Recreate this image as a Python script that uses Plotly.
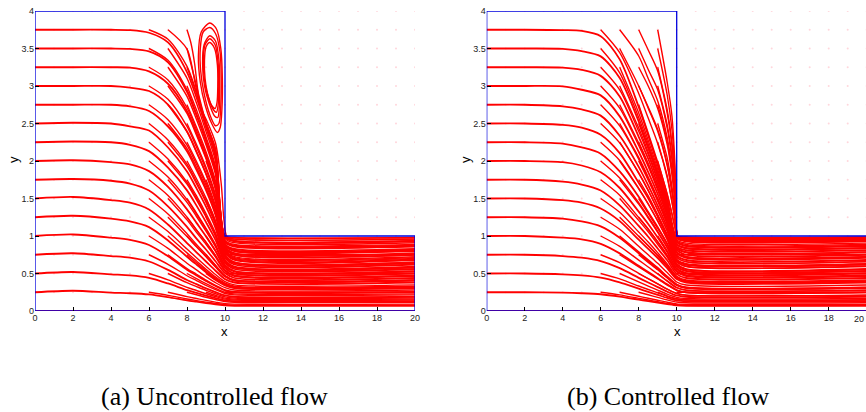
import plotly.graph_objects as go

# ------------------------------------------------------------------
# Data
# ------------------------------------------------------------------
X_TICKS = [0, 2, 4, 6, 8, 10, 12, 14, 16, 18, 20]
Y_TICKS = [0, 0.5, 1, 1.5, 2, 2.5, 3, 3.5, 4]
Y_TICK_TEXT = ["0", "0.5", "1", "1.5", "2", "2.5", "3", "3.5", "4"]

# domain boundary (L-shaped channel)
BND_X = [0, 0, 10, 10, 20, 20, 0]
BND_Y = [0, 4, 4, 1, 1, 0, 0]

# seed grid (visible as faint dots where the velocity is zero)
DOT_X = [0, 1, 2, 3, 4, 5, 6, 7, 8, 9, 10, 11, 12, 13, 14, 15, 16, 17, 18, 19, 20]
DOT_Y = [0, 0.25, 0.5, 0.75, 1, 1.25, 1.5, 1.75, 2, 2.25, 2.5, 2.75, 3, 3.25, 3.5, 3.75, 4]

# streamlines seeded in the outlet channel and on the bottom wall
OUT_X = [10, 20]
OUT_Y = [0.25, 0.5, 0.75]
WALL_X = [0, 20]
WALL_Y = [0, 0]

# ---------------- (a) uncontrolled flow ----------------
A_MAIN_X = [0, 2, 4, 5, 6, 7, 8, 8.5, 9, 9.5, 10, 10.5, 20]
A_MAIN_Y = [
    [0.25, 0.27, 0.245, 0.237, 0.221, 0.185, 0.142, 0.124, 0.106, 0.09, 0.075, 0.07, 0.07],
    [0.5, 0.52, 0.489, 0.474, 0.441, 0.367, 0.278, 0.241, 0.204, 0.171, 0.141, 0.13, 0.13],
    [0.75, 0.77, 0.733, 0.711, 0.66, 0.548, 0.414, 0.358, 0.302, 0.252, 0.207, 0.19, 0.19],
    [1.0, 1.02, 0.978, 0.948, 0.88, 0.73, 0.55, 0.475, 0.4, 0.333, 0.273, 0.25, 0.25],
    [1.25, 1.27, 1.231, 1.194, 1.118, 0.94, 0.724, 0.62, 0.517, 0.423, 0.348, 0.31, 0.31],
    [1.5, 1.52, 1.478, 1.444, 1.354, 1.153, 0.906, 0.783, 0.66, 0.537, 0.425, 0.38, 0.38],
    [1.75, 1.76, 1.737, 1.698, 1.606, 1.396, 1.121, 0.964, 0.82, 0.663, 0.506, 0.44, 0.44],
    [2.0, 2.01, 1.985, 1.955, 1.865, 1.655, 1.355, 1.175, 0.995, 0.8, 0.575, 0.5, 0.5],
    [2.25, 2.26, 2.25, 2.216, 2.132, 1.912, 1.608, 1.405, 1.185, 0.949, 0.645, 0.56, 0.56],
    [2.5, 2.51, 2.5, 2.462, 2.406, 2.18, 1.861, 1.635, 1.391, 1.109, 0.714, 0.62, 0.62],
    [2.75, 2.75, 2.75, 2.729, 2.667, 2.46, 2.129, 1.881, 1.611, 1.28, 0.783, 0.68, 0.68],
    [3.0, 3.0, 3.0, 2.978, 2.933, 2.753, 2.393, 2.123, 1.83, 1.47, 0.84, 0.75, 0.75],
    [3.25, 3.25, 3.25, 3.245, 3.195, 3.03, 2.664, 2.372, 2.054, 1.664, 0.883, 0.81, 0.81],
    [3.5, 3.5, 3.5, 3.495, 3.462, 3.316, 2.921, 2.606, 2.264, 1.869, 0.923, 0.87, 0.87],
    [3.75, 3.75, 3.75, 3.745, 3.71, 3.581, 3.186, 2.848, 2.453, 2.058, 0.986, 0.93, 0.93],
]
A_S6_X = [6, 7, 8, 8.5, 9, 9.5, 10, 10.5, 20]
A_S6_Y = [
    [0.25, 0.209, 0.16, 0.139, 0.119, 0.101, 0.084, 0.078, 0.078],
    [0.5, 0.416, 0.315, 0.273, 0.23, 0.193, 0.159, 0.146, 0.146],
    [0.75, 0.623, 0.47, 0.406, 0.342, 0.285, 0.234, 0.215, 0.215],
    [1.0, 0.835, 0.637, 0.548, 0.459, 0.378, 0.311, 0.28, 0.28],
    [1.25, 1.059, 0.826, 0.711, 0.597, 0.487, 0.391, 0.349, 0.349],
    [1.5, 1.294, 1.031, 0.888, 0.753, 0.61, 0.472, 0.415, 0.415],
    [1.75, 1.541, 1.252, 1.082, 0.918, 0.74, 0.545, 0.474, 0.474],
    [2.0, 1.786, 1.484, 1.292, 1.092, 0.876, 0.611, 0.531, 0.531],
    [2.25, 2.027, 1.717, 1.504, 1.274, 1.018, 0.675, 0.586, 0.586],
    [2.5, 2.281, 1.957, 1.724, 1.47, 1.171, 0.739, 0.642, 0.642],
    [2.75, 2.551, 2.211, 1.956, 1.679, 1.339, 0.801, 0.702, 0.702],
    [3.0, 2.822, 2.461, 2.185, 1.886, 1.519, 0.851, 0.765, 0.765],
    [3.25, 3.081, 2.71, 2.414, 2.092, 1.701, 0.89, 0.821, 0.821],
    [3.5, 3.343, 2.948, 2.63, 2.283, 1.888, 0.929, 0.876, 0.876],
    [3.75, 3.623, 3.262, 2.913, 2.468, 2.082, 0.987, 0.937, 0.937],
]
A_S7_X = [7, 8, 8.5, 9, 9.5, 10, 10.5, 20]
A_S7_Y = [
    [0.25, 0.191, 0.166, 0.141, 0.119, 0.099, 0.092, 0.092],
    [0.5, 0.377, 0.326, 0.276, 0.23, 0.189, 0.174, 0.174],
    [0.75, 0.567, 0.49, 0.412, 0.342, 0.281, 0.256, 0.256],
    [1.0, 0.775, 0.666, 0.557, 0.455, 0.37, 0.33, 0.33],
    [1.25, 0.992, 0.855, 0.724, 0.587, 0.457, 0.404, 0.404],
    [1.5, 1.215, 1.048, 0.89, 0.718, 0.534, 0.464, 0.464],
    [1.75, 1.449, 1.26, 1.065, 0.855, 0.601, 0.522, 0.522],
    [2.0, 1.691, 1.481, 1.253, 1.002, 0.668, 0.58, 0.58],
    [2.25, 1.928, 1.697, 1.446, 1.152, 0.731, 0.635, 0.635],
    [2.5, 2.166, 1.915, 1.642, 1.307, 0.791, 0.69, 0.69],
    [2.75, 2.39, 2.12, 1.828, 1.468, 0.839, 0.749, 0.749],
    [3.0, 2.634, 2.345, 2.029, 1.643, 0.878, 0.803, 0.803],
    [3.25, 2.862, 2.552, 2.216, 1.822, 0.914, 0.856, 0.856],
    [3.5, 3.104, 2.773, 2.394, 1.999, 0.966, 0.911, 0.911],
    [3.75, 3.492, 2.95, 2.512, 2.155, 0.992, 0.958, 0.958],
]
A_S8_X = [8, 8.5, 9, 9.5, 10, 10.5, 20]
A_S8_Y = [
    [0.25, 0.216, 0.183, 0.154, 0.127, 0.117, 0.117],
    [0.5, 0.432, 0.364, 0.303, 0.249, 0.228, 0.228],
    [0.75, 0.643, 0.537, 0.439, 0.359, 0.32, 0.32],
    [1.0, 0.863, 0.73, 0.592, 0.461, 0.406, 0.406],
    [1.25, 1.08, 0.916, 0.738, 0.544, 0.473, 0.473],
    [1.5, 1.306, 1.103, 0.885, 0.615, 0.534, 0.534],
    [1.75, 1.534, 1.3, 1.039, 0.684, 0.594, 0.594],
    [2.0, 1.763, 1.505, 1.198, 0.75, 0.651, 0.651],
    [2.25, 1.992, 1.712, 1.367, 0.809, 0.712, 0.712],
    [2.5, 2.22, 1.917, 1.546, 0.857, 0.773, 0.773],
    [2.75, 2.449, 2.123, 1.732, 0.896, 0.83, 0.83],
    [3.0, 2.679, 2.321, 1.926, 0.942, 0.888, 0.888],
    [3.25, 2.9, 2.465, 2.077, 0.987, 0.936, 0.936],
    [3.5, 3.0, 2.513, 2.157, 0.992, 0.959, 0.959],
]
A_S9_X = [9, 9.5, 10, 10.5, 20]
A_S9_Y = [
    [0.25, 0.209, 0.172, 0.158, 0.158],
    [0.5, 0.41, 0.337, 0.301, 0.301],
    [0.75, 0.608, 0.47, 0.414, 0.414],
    [1.0, 0.804, 0.577, 0.502, 0.502],
    [1.25, 1.0, 0.667, 0.579, 0.579],
    [1.5, 1.195, 0.749, 0.65, 0.65],
    [1.75, 1.4, 0.819, 0.724, 0.724],
    [2.0, 1.617, 0.873, 0.796, 0.796],
    [2.25, 1.855, 0.92, 0.866, 0.866],
    [2.5, 2.12, 0.99, 0.975, 0.975],
]
# streamline seeded at (8, 3.75), hugging the recirculation bubble
A_EXTRA_X = [[8, 8.2, 8.4, 8.55, 8.7, 9.0, 9.5, 9.8, 9.95, 10.1, 10.5, 20]]
A_EXTRA_Y = [[3.75, 3.58, 3.3, 2.98, 2.72, 2.56, 2.24, 1.7, 1.2, 0.995, 0.98, 0.98]]
# closed streamlines of the corner vortex
A_VORTEX_X = [
    [9.2, 9.55, 9.78, 9.86, 9.84, 9.75, 9.6, 9.3, 8.95, 8.7, 8.6, 8.75, 9.2],
    [9.2, 9.5, 9.74, 9.8, 9.78, 9.68, 9.5, 9.2, 8.9, 8.72, 8.7, 8.85, 9.2],
    [9.2, 9.5, 9.68, 9.72, 9.7, 9.62, 9.45, 9.15, 8.92, 8.82, 8.9, 9.2],
    [9.2, 9.48, 9.64, 9.67, 9.64, 9.55, 9.4, 9.12, 8.92, 8.86, 8.95, 9.2],
    [9.2, 9.45, 9.6, 9.62, 9.58, 9.48, 9.3, 9.08, 8.95, 8.92, 9.0, 9.2],
]
A_VORTEX_Y = [
    [3.84, 3.76, 3.5, 3.1, 2.7, 2.45, 2.38, 2.5, 2.75, 3.05, 3.4, 3.72, 3.84],
    [3.78, 3.7, 3.45, 3.1, 2.75, 2.5, 2.47, 2.62, 2.9, 3.2, 3.5, 3.72, 3.78],
    [3.67, 3.6, 3.35, 3.0, 2.72, 2.58, 2.6, 2.78, 3.0, 3.3, 3.55, 3.67],
    [3.63, 3.55, 3.3, 3.0, 2.75, 2.65, 2.68, 2.85, 3.08, 3.35, 3.55, 3.63],
    [3.58, 3.5, 3.28, 3.0, 2.78, 2.7, 2.74, 2.9, 3.1, 3.35, 3.52, 3.58],
]

# ---------------- (b) controlled flow ----------------
B_MAIN_X = [0, 2, 4, 5, 6, 7, 8, 8.5, 9, 9.5, 10, 10.5, 20]
B_MAIN_Y = [
    [0.25, 0.25, 0.245, 0.237, 0.223, 0.192, 0.151, 0.131, 0.111, 0.092, 0.075, 0.07, 0.07],
    [0.5, 0.5, 0.489, 0.474, 0.445, 0.382, 0.297, 0.256, 0.215, 0.174, 0.141, 0.13, 0.13],
    [0.75, 0.75, 0.733, 0.711, 0.666, 0.571, 0.442, 0.38, 0.319, 0.257, 0.207, 0.19, 0.19],
    [1.0, 1.0, 0.978, 0.955, 0.895, 0.768, 0.603, 0.52, 0.438, 0.355, 0.28, 0.25, 0.25],
    [1.25, 1.25, 1.231, 1.194, 1.128, 0.977, 0.771, 0.667, 0.564, 0.451, 0.348, 0.31, 0.31],
    [1.5, 1.5, 1.478, 1.444, 1.366, 1.198, 0.951, 0.828, 0.705, 0.57, 0.425, 0.38, 0.38],
    [1.75, 1.75, 1.724, 1.685, 1.606, 1.409, 1.134, 0.99, 0.833, 0.676, 0.492, 0.44, 0.44],
    [2.0, 2.0, 1.985, 1.94, 1.85, 1.64, 1.325, 1.16, 0.98, 0.785, 0.56, 0.5, 0.5],
    [2.25, 2.25, 2.233, 2.182, 2.098, 1.861, 1.523, 1.32, 1.118, 0.898, 0.628, 0.56, 0.56],
    [2.5, 2.5, 2.481, 2.444, 2.35, 2.105, 1.71, 1.504, 1.259, 0.996, 0.676, 0.62, 0.62],
    [2.75, 2.75, 2.729, 2.688, 2.605, 2.336, 1.922, 1.674, 1.405, 1.115, 0.742, 0.68, 0.68],
    [3.0, 3.0, 2.995, 2.95, 2.875, 2.595, 2.123, 1.853, 1.56, 1.223, 0.818, 0.75, 0.75],
    [3.25, 3.25, 3.245, 3.215, 3.135, 2.86, 2.323, 2.03, 1.688, 1.322, 0.859, 0.81, 0.81],
    [3.5, 3.5, 3.495, 3.465, 3.395, 3.106, 2.527, 2.185, 1.817, 1.422, 0.923, 0.87, 0.87],
    [3.75, 3.75, 3.745, 3.735, 3.665, 3.355, 2.721, 2.34, 1.945, 1.494, 0.972, 0.93, 0.93],
]
B_S6_X = [6, 7, 8, 8.5, 9, 9.5, 10, 10.5, 20]
B_S6_Y = [
    [0.25, 0.215, 0.169, 0.146, 0.123, 0.102, 0.083, 0.077, 0.077],
    [0.5, 0.429, 0.333, 0.287, 0.241, 0.195, 0.158, 0.145, 0.145],
    [0.75, 0.644, 0.502, 0.432, 0.363, 0.293, 0.234, 0.212, 0.212],
    [1.0, 0.862, 0.679, 0.586, 0.495, 0.398, 0.311, 0.277, 0.277],
    [1.25, 1.09, 0.863, 0.749, 0.636, 0.512, 0.387, 0.346, 0.346],
    [1.5, 1.316, 1.053, 0.919, 0.777, 0.629, 0.463, 0.414, 0.414],
    [1.75, 1.545, 1.247, 1.09, 0.92, 0.74, 0.532, 0.475, 0.475],
    [2.0, 1.773, 1.444, 1.256, 1.063, 0.853, 0.601, 0.536, 0.536],
    [2.25, 2.007, 1.635, 1.43, 1.203, 0.957, 0.657, 0.596, 0.596],
    [2.5, 2.241, 1.835, 1.604, 1.345, 1.066, 0.715, 0.655, 0.655],
    [2.75, 2.468, 2.025, 1.765, 1.484, 1.17, 0.781, 0.716, 0.716],
    [3.0, 2.706, 2.207, 1.927, 1.614, 1.265, 0.835, 0.775, 0.775],
    [3.25, 2.949, 2.396, 2.086, 1.734, 1.358, 0.882, 0.832, 0.832],
    [3.5, 3.176, 2.581, 2.228, 1.853, 1.442, 0.937, 0.887, 0.887],
]
B_S7_X = [7, 8, 8.5, 9, 9.5, 10, 10.5, 20]
B_S7_Y = [
    [0.25, 0.196, 0.17, 0.143, 0.117, 0.095, 0.089, 0.089],
    [0.5, 0.387, 0.333, 0.279, 0.225, 0.182, 0.167, 0.167],
    [0.75, 0.589, 0.507, 0.427, 0.346, 0.273, 0.245, 0.245],
    [1.0, 0.789, 0.683, 0.578, 0.463, 0.356, 0.317, 0.317],
    [1.25, 0.997, 0.869, 0.737, 0.597, 0.442, 0.395, 0.395],
    [1.5, 1.208, 1.056, 0.89, 0.719, 0.519, 0.463, 0.463],
    [1.75, 1.424, 1.24, 1.049, 0.842, 0.594, 0.53, 0.53],
    [2.0, 1.63, 1.425, 1.198, 0.954, 0.655, 0.594, 0.594],
    [2.25, 1.844, 1.611, 1.351, 1.071, 0.718, 0.658, 0.658],
    [2.5, 2.049, 1.787, 1.503, 1.183, 0.79, 0.724, 0.724],
    [2.75, 2.239, 1.956, 1.634, 1.28, 0.842, 0.785, 0.785],
    [3.0, 2.439, 2.118, 1.762, 1.379, 0.895, 0.844, 0.844],
    [3.25, 2.64, 2.275, 1.891, 1.464, 0.951, 0.905, 0.905],
]
B_S8_X = [8, 8.5, 9, 9.5, 10, 10.5, 20]
B_S8_Y = [
    [0.25, 0.216, 0.182, 0.148, 0.12, 0.111, 0.111],
    [0.5, 0.43, 0.362, 0.292, 0.233, 0.212, 0.212],
    [0.75, 0.649, 0.549, 0.439, 0.34, 0.303, 0.303],
    [1.0, 0.872, 0.74, 0.599, 0.443, 0.396, 0.396],
    [1.25, 1.094, 0.923, 0.742, 0.533, 0.477, 0.477],
    [1.5, 1.301, 1.101, 0.884, 0.62, 0.553, 0.553],
    [1.75, 1.536, 1.287, 1.019, 0.689, 0.631, 0.631],
    [2.0, 1.744, 1.465, 1.157, 0.772, 0.707, 0.707],
    [2.25, 1.966, 1.642, 1.286, 0.844, 0.788, 0.788],
    [2.5, 2.165, 1.8, 1.409, 0.915, 0.862, 0.862],
]
B_S9_X = [9, 9.5, 10, 10.5, 20]
B_S9_Y = [
    [0.25, 0.202, 0.163, 0.15, 0.15],
    [0.5, 0.402, 0.313, 0.279, 0.279],
    [0.75, 0.607, 0.448, 0.401, 0.401],
    [1.0, 0.801, 0.57, 0.508, 0.508],
    [1.25, 0.99, 0.673, 0.616, 0.616],
    [1.5, 1.181, 0.788, 0.723, 0.723],
    [1.75, 1.37, 0.89, 0.839, 0.839],
]
# upper seeds that run down along the step wall into the corner
B_TOP_X = [
    [8, 8.5, 9, 9.5, 9.75, 9.9, 9.97, 10.05, 10.5, 20],
    [9, 9.5, 9.75, 9.9, 9.97, 10.05, 10.5, 20],
    [6, 7, 8, 8.5, 9, 9.5, 9.75, 9.9, 9.97, 10.05, 10.5, 20],
    [9, 9.5, 9.75, 9.9, 9.97, 10.05, 10.5, 20],
    [7, 8, 8.5, 9, 9.5, 9.75, 9.9, 9.97, 10.05, 10.5, 20],
    [8, 8.5, 9, 9.5, 9.75, 9.9, 9.97, 10.05, 10.5, 20],
    [9, 9.5, 9.75, 9.9, 9.97, 10.05, 10.5, 20],
    [8, 8.5, 9, 9.5, 9.75, 9.9, 9.97, 10.05, 10.5, 20],
    [9, 9.5, 9.75, 9.9, 9.97, 10.05, 10.5, 20],
    [7, 8, 8.5, 9, 9.5, 9.75, 9.9, 9.97, 10.05, 10.5, 20],
    [8, 8.5, 9, 9.5, 9.75, 9.9, 9.97, 10.05, 10.5, 20],
    [9, 9.5, 9.75, 9.9, 9.97, 10.05, 10.5, 20],
    [8, 8.5, 9, 9.5, 9.75, 9.9, 9.97, 10.05, 10.5, 20],
    [9, 9.5, 9.75, 9.9, 9.97, 10.05, 10.5, 20],
    [9, 9.5, 9.75, 9.9, 9.97, 10.05, 10.5, 20],
    [9, 9.5, 9.75, 9.9, 9.97, 10.05, 10.5, 20],
]
B_TOP_Y = [
    [2.75, 2.373, 1.986, 1.55, 1.29, 1.12, 1.04, 0.975, 0.933, 0.933],
    [2.0, 1.56, 1.3, 1.12, 1.04, 0.975, 0.933, 0.933],
    [3.75, 3.445, 2.9, 2.572, 2.233, 1.78, 1.45, 1.22, 1.08, 0.98, 0.94, 0.94],
    [2.25, 1.8, 1.46, 1.23, 1.09, 0.982, 0.943, 0.943],
    [3.5, 3.0, 2.705, 2.397, 1.94, 1.58, 1.31, 1.13, 0.985, 0.948, 0.948],
    [3.0, 2.72, 2.42, 1.96, 1.6, 1.32, 1.14, 0.986, 0.95, 0.95],
    [2.5, 2.04, 1.66, 1.36, 1.16, 0.988, 0.953, 0.953],
    [3.25, 3.0, 2.7, 2.22, 1.82, 1.47, 1.22, 0.99, 0.957, 0.957],
    [2.75, 2.27, 1.86, 1.5, 1.24, 0.99, 0.96, 0.96],
    [3.75, 3.4, 3.1, 2.8, 2.31, 1.9, 1.53, 1.26, 0.992, 0.962, 0.962],
    [3.5, 3.22, 2.95, 2.44, 2.02, 1.6, 1.3, 0.994, 0.966, 0.966],
    [3.0, 2.48, 2.06, 1.63, 1.32, 0.995, 0.968, 0.968],
    [3.75, 3.48, 3.2, 2.64, 2.2, 1.72, 1.36, 0.997, 0.973, 0.973],
    [3.25, 2.68, 2.24, 1.75, 1.38, 0.997, 0.976, 0.976],
    [3.5, 2.88, 2.42, 1.88, 1.44, 0.998, 0.981, 0.981],
    [3.75, 3.05, 2.6, 2.0, 1.5, 1.0, 0.986, 0.986],
]

# ------------------------------------------------------------------
RED = "#ff0000"
BLUE = "#0000dd"
fig = go.Figure()


def add_line(x, y, ax, width=1.2, color=RED, shape="spline"):
    fig.add_trace(go.Scatter(
        x=x, y=y, mode="lines", xaxis=ax[0], yaxis=ax[1],
        line=dict(color=color, width=width, shape=shape, smoothing=0.8),
        hoverinfo="skip", showlegend=False))


def add_panel(ax, main_x, main_y, seeds, extra_x, extra_y, vort_x, vort_y):
    # seed dots
    gx, gy = [], []
    for xv in DOT_X:
        for yv in DOT_Y:
            gx.append(xv)
            gy.append(yv)
    fig.add_trace(go.Scatter(x=gx, y=gy, mode="markers", xaxis=ax[0], yaxis=ax[1],
                             marker=dict(size=2, color="rgba(255,120,140,0.3)"),
                             hoverinfo="skip", showlegend=False))
    for yl in main_y:
        add_line(main_x, yl, ax, width=1.8)
    for sx, sy_list in seeds:
        for yl in sy_list:
            add_line(sx, yl, ax, width=1.4)
    for xl, yl in zip(extra_x, extra_y):
        add_line(xl, yl, ax, width=1.4)
    for xl, yl in zip(vort_x, vort_y):
        add_line(xl, yl, ax, width=1.4)
    for yv in OUT_Y:
        add_line(OUT_X, [yv, yv], ax, width=1.4, shape="linear")
    add_line(WALL_X, WALL_Y, ax, width=2.2, shape="linear")
    add_line(BND_X, BND_Y, ax, width=1.3, color=BLUE, shape="linear")


add_panel(("x", "y"), A_MAIN_X, A_MAIN_Y,
          [(A_S6_X, A_S6_Y), (A_S7_X, A_S7_Y), (A_S8_X, A_S8_Y), (A_S9_X, A_S9_Y)],
          A_EXTRA_X, A_EXTRA_Y, A_VORTEX_X, A_VORTEX_Y)
add_panel(("x2", "y2"), B_MAIN_X, B_MAIN_Y,
          [(B_S6_X, B_S6_Y), (B_S7_X, B_S7_Y), (B_S8_X, B_S8_Y), (B_S9_X, B_S9_Y)],
          B_TOP_X, B_TOP_Y, [], [])

W, H = 866, 412
Y_DOM = [(H - 311) / H, (H - 11) / H]
tickfont = dict(family="Liberation Sans, Arial, sans-serif", size=9, color="#222")
axis_common = dict(showgrid=False, zeroline=False, showline=False, ticks="inside",
                   ticklen=4, tickwidth=1, tickcolor="#000", tickfont=tickfont,
                   automargin=False)

fig.update_layout(
    width=W, height=H, margin=dict(l=0, r=0, t=0, b=0, autoexpand=False),
    paper_bgcolor="white", plot_bgcolor="white", showlegend=False,
    xaxis=dict(domain=[35 / W, 415 / W], range=[0, 20], tickvals=X_TICKS,
               anchor="y", **axis_common),
    yaxis=dict(domain=Y_DOM, range=[0, 4], tickvals=Y_TICKS, ticktext=Y_TICK_TEXT,
               anchor="x", **axis_common),
    xaxis2=dict(domain=[486.7 / W, 1.0], range=[0, 20 * (W - 486.7) / 380],
                tickvals=X_TICKS, anchor="y2", **axis_common),
    yaxis2=dict(domain=Y_DOM, range=[0, 4], tickvals=Y_TICKS, ticktext=Y_TICK_TEXT,
                anchor="x2", **axis_common),
)

label_font = dict(family="Liberation Sans, Arial, sans-serif", size=13, color="#000")
cap_font = dict(family="Liberation Serif, Times New Roman, serif", size=26, color="#000")
ann = [
    dict(text="x", x=224 / W, y=(H - 331) / H, font=label_font, xanchor="center"),
    dict(text="x", x=677 / W, y=(H - 331) / H, font=label_font, xanchor="center"),
    dict(text="y", x=13 / W, y=(H - 160) / H, font=label_font, textangle=-90,
         xanchor="center"),
    dict(text="y", x=465 / W, y=(H - 160) / H, font=label_font, textangle=-90,
         xanchor="center"),
    dict(text="20", x=1.0, y=(H - 319) / H, font=tickfont, xanchor="right"),
    dict(text="(a) Uncontrolled flow", x=214 / W, y=(H - 396) / H, font=cap_font,
         xanchor="center"),
    dict(text="(b) Controlled flow", x=668 / W, y=(H - 396) / H, font=cap_font,
         xanchor="center"),
]
for a in ann:
    fig.add_annotation(xref="paper", yref="paper", showarrow=False,
                       yanchor="middle", **a)

fig.write_html(
    "out.html",
    config={"displayModeBar": False},
    post_script="document.body.style.margin='0px';document.body.style.padding='0px';"
                "document.body.style.overflow='hidden';")
